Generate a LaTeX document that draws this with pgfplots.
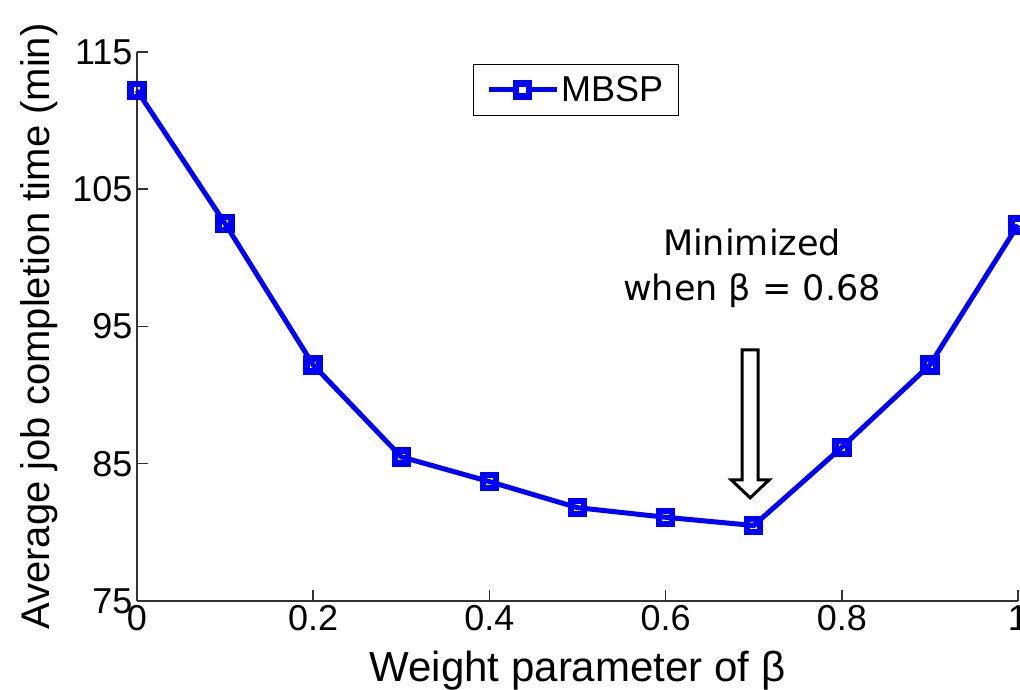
\documentclass[border=0pt]{standalone}
\usepackage{fontspec}
\setmainfont{Liberation Sans}
\newfontfamily\annfont{DejaVu Sans}
\usepackage{pgfplots}
\pgfplotsset{compat=1.18}
\definecolor{mblue}{RGB}{0,0,255}
\definecolor{axgray}{RGB}{50,50,50}
\begin{document}
\begin{tikzpicture}
\begin{axis}[
  scale only axis,
  width=881pt, height=549pt,
  xmin=0, xmax=1, ymin=75, ymax=115,
  xtick={0,0.2,0.4,0.6,0.8,1},
  xticklabels={0,0.2,0.4,0.6,0.8,1},
  ytick={75,85,95,105,115},
  axis x line*=bottom, axis y line*=left,
  axis line style={axgray, line width=1.5pt, -},
  tick style={axgray, line width=1.5pt},
  major tick length=11pt,
  tick align=inside,
  /pgf/number format/assume math mode=true,
  ticklabel style={font=\fontsize{36}{40}\selectfont},
  xticklabel style={yshift=-1pt},
  yticklabel style={xshift=-1pt},
  xlabel={Weight parameter of β},
  ylabel={Average job completion time (min)},
  xlabel style={font=\fontsize{42}{46}\selectfont, yshift=-13pt},
  ylabel style={font=\fontsize{40}{44}\selectfont, yshift=8pt},
  legend style={at={(0.498,0.978)}, anchor=north, draw=black, line width=1.2pt,
    font=\fontsize{36}{40}\selectfont, inner xsep=13pt, inner ysep=10pt},
  legend cell align=left,
  legend image code/.code={
    \draw[#1, line width=5pt] (0pt,0pt) -- (68pt,0pt);
    \draw[mblue, line width=6.5pt, fill=white] (27.5pt,-6.5pt) rectangle (40.5pt,6.5pt);
  },
  clip=false,
]
\addplot[mblue, line width=5pt, mark=square, mark size=6.5pt,
  mark options={line width=6.5pt, fill=white, solid}]
  coordinates {
  (0,112.2) (0.1,102.5) (0.2,92.2) (0.3,85.5) (0.4,83.7) (0.5,81.8)
  (0.6,81.1) (0.7,80.5) (0.8,86.2) (0.9,92.2) (1.0,102.4)
  };
\addlegendentry{MBSP}
\node[font=\annfont\fontsize{35}{45}\selectfont, align=center, anchor=north, inner sep=0pt]
  at (axis cs:0.698,102.1) {Minimized\\when β = 0.68};
\draw[black, line width=3pt, fill=white, line join=miter]
  (axis cs:0.696,93.3) ++(-8pt,0pt) -- ++(0pt,-130pt) -- ++(-11pt,0pt)
  -- ++(19pt,-18pt) -- ++(19pt,18pt) -- ++(-11pt,0pt) -- ++(0pt,130pt) -- cycle;
\end{axis}
\pgfresetboundingbox
\path (-137pt,-89pt) rectangle (883pt,601pt);
\end{tikzpicture}
\end{document}
